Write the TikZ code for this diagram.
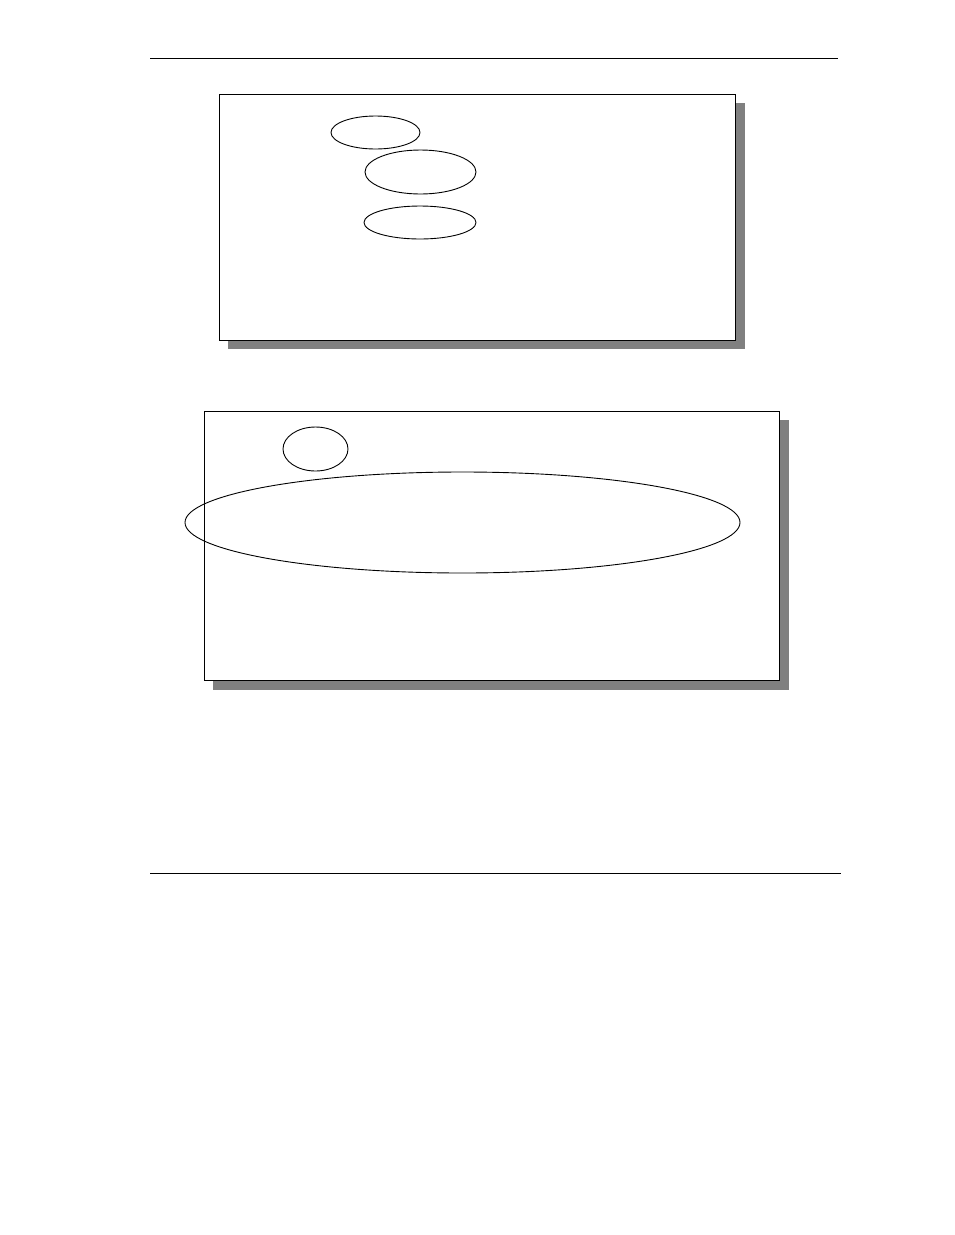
\documentclass[tikz,border=0pt]{standalone}
\usetikzlibrary{shapes.geometric}
\begin{document}
\begin{tikzpicture}[x=1pt,y=-1pt,
  rulel/.style={line width=0.8pt,black},
  frame/.style={draw=black,line width=1pt,fill=white},
  shadowbox/.style={fill=black!50,draw=none},
  oval/.style={draw=black,line width=0.9pt,ellipse,inner sep=0pt}]
\useasboundingbox[fill=white] (0,0) rectangle (954,1235);
% rules
\coordinate (r1a) at (150,58); \coordinate (r1b) at (838,58);
\draw[rulel] (r1a) -- (r1b);
\coordinate (r2a) at (150,873); \coordinate (r2b) at (841,873);
\draw[rulel] (r2a) -- (r2b);
% box 1
\fill[shadowbox] (228,103) rectangle (745,349);
\draw[frame] (219,94) rectangle (735,340);
\node[oval,minimum width=89pt,minimum height=33pt] (e1) at (375.5,132.5) {};
\node[oval,minimum width=111pt,minimum height=44pt] (e2) at (420.5,172) {};
\node[oval,minimum width=112pt,minimum height=33pt] (e3) at (420,222.5) {};
% box 2
\fill[shadowbox] (213,420) rectangle (789,690);
\draw[frame] (204,411) rectangle (779,680);
\node[oval,minimum width=65pt,minimum height=44pt] (c1) at (315.5,449) {};
\node[oval,minimum width=555pt,minimum height=101pt] (e4) at (462.5,522.5) {};
\end{tikzpicture}
\end{document}
